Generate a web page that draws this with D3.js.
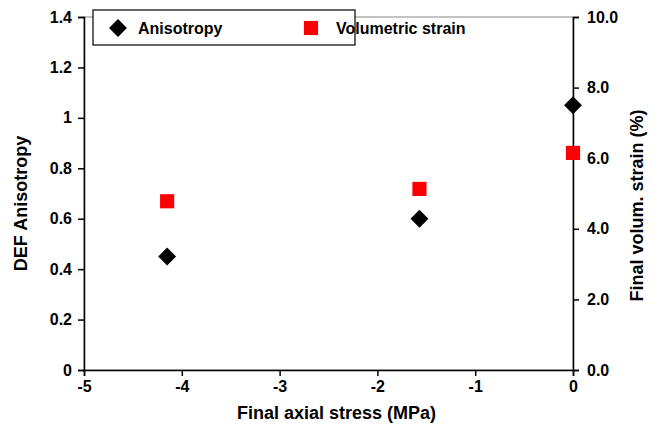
<!DOCTYPE html><html><head><meta charset="utf-8"><script src="https://cdn.jsdelivr.net/npm/d3@7"></script>
<style>body{margin:0;background:#fff}text{font-family:Arial,"Liberation Sans",sans-serif;font-weight:bold}</style></head><body>
<svg id="c" width="661" height="429"></svg>
<script>
const stress=[-4.15,-1.57,0];
const anis=[0.45,0.60,1.05];
const volStrain=[4.78,5.13,6.15];
const volErr=[0.12,0.08,0.12];
const xTicks=[-5,-4,-3,-2,-1,0];
const yTicks=[0,0.2,0.4,0.6,0.8,1,1.2,1.4];
const y2Ticks=[0,2,4,6,8,10];
const svg=d3.select("#c");
const L=84,R=573,T=17,B=370;
const x=d3.scaleLinear().domain([-5,0]).range([L,R]);
const y=d3.scaleLinear().domain([0,1.4]).range([B,T]);
const y2=d3.scaleLinear().domain([0,10]).range([B,T]);
svg.append("rect").attr("x",L).attr("y",T).attr("width",R-L).attr("height",B-T).attr("fill","none").attr("stroke","#888").attr("stroke-width",1);
const gx=svg.append("g").attr("transform",`translate(0,${B})`).call(d3.axisBottom(x).tickValues(xTicks).tickFormat(d=>d<0?"-"+(-d):String(d)).tickSize(6).tickPadding(5));
const gy=svg.append("g").attr("transform",`translate(${L},0)`).call(d3.axisLeft(y).tickValues(yTicks).tickFormat(d=>String(d)).tickSize(6).tickPadding(6));
const gy2=svg.append("g").attr("transform",`translate(${R},0)`).call(d3.axisRight(y2).tickValues(y2Ticks).tickFormat(d3.format(".1f")).tickSize(6).tickPadding(8));
[gx,gy,gy2].forEach(g=>{g.select(".domain").attr("stroke","#000").attr("stroke-width",1.5);g.selectAll("line").attr("stroke-width",1.5);g.selectAll("text").attr("font-size",16).attr("fill","#000");});
svg.append("text").attr("x",(L+R)/2+8).attr("y",419).attr("text-anchor","middle").attr("font-size",18).text("Final axial stress (MPa)");
svg.append("text").attr("transform",`translate(27,${(T+B)/2+10}) rotate(-90)`).attr("text-anchor","middle").attr("font-size",18).text("DEF Anisotropy");
svg.append("text").attr("transform",`translate(643,${(T+B)/2+12}) rotate(-90)`).attr("text-anchor","middle").attr("font-size",18).text("Final volum. strain (%)");
const diamond=d3.symbol().type(d3.symbolSquare).size(160);
const square=d3.symbol().type(d3.symbolSquare).size(200);
svg.selectAll(".e").data(stress).enter().append("line").attr("x1",d=>x(d)).attr("x2",d=>x(d))
 .attr("y1",(d,i)=>y2(volStrain[i]-volErr[i])-6).attr("y2",(d,i)=>y2(volStrain[i]+volErr[i])+6).attr("stroke","#e00").attr("stroke-width",1.5);
svg.selectAll(".s").data(stress).enter().append("path").attr("d",square).attr("fill","#f00")
 .attr("transform",(d,i)=>`translate(${x(d)},${y2(volStrain[i])})`);
svg.selectAll(".a").data(stress).enter().append("path").attr("d",diamond).attr("fill","#000")
 .attr("transform",(d,i)=>`translate(${x(d)},${y(anis[i])}) rotate(45)`);
const lg=svg.append("g");
lg.append("rect").attr("x",93).attr("y",10).attr("width",262).attr("height",35).attr("fill","#fff").attr("stroke","#000").attr("stroke-width",1.2);
lg.append("path").attr("d",diamond).attr("transform","translate(118,28) rotate(45)");
lg.append("text").attr("x",138).attr("y",34).attr("font-size",16).text("Anisotropy");
lg.append("path").attr("d",square).attr("fill","#f00").attr("transform","translate(311,28)");
lg.append("text").attr("x",336).attr("y",34).attr("font-size",16).text("Volumetric strain");
</script></body></html>
